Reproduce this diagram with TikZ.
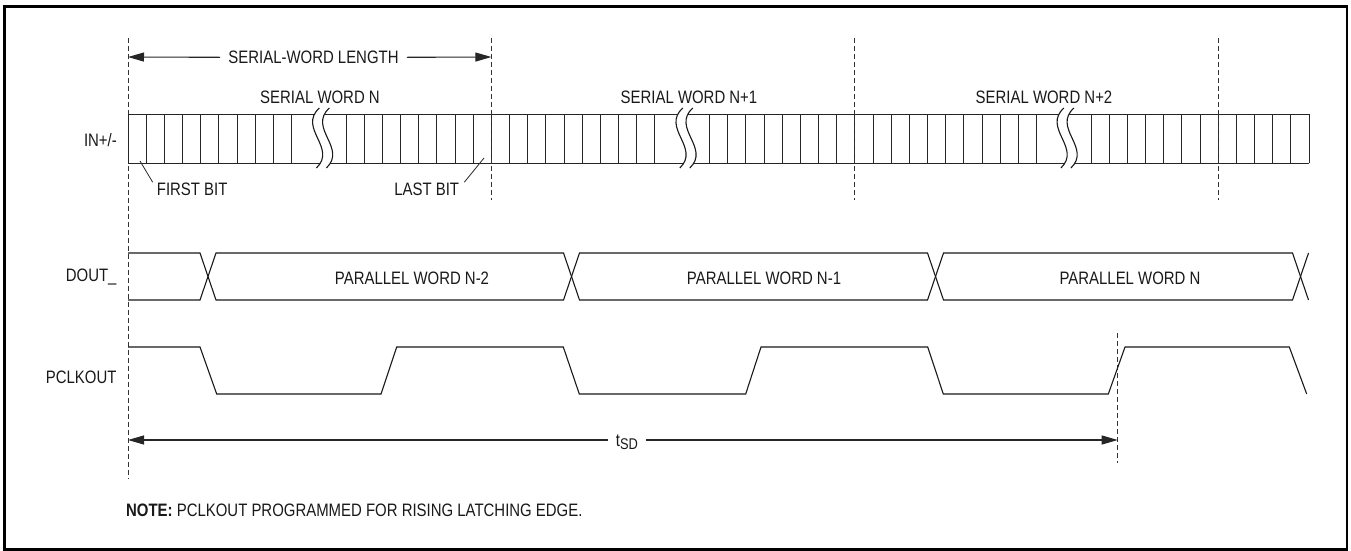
\documentclass[tikz,border=0pt]{standalone}
\usepackage{fontspec}
\setmainfont{Liberation Sans}[FakeStretch=0.83]
\usetikzlibrary{arrows.meta}
\begin{document}
\begin{tikzpicture}[x=1pt,y=-1pt,
  lbl/.style={font=\fontsize{18}{20}\selectfont, inner sep=0pt, text=black!90},
  sig/.style={line width=1.1pt, line join=miter, black!90},
  buswire/.style={line width=0.9pt, black!85},
  guide/.style={line width=0.8pt, dash pattern=on 5pt off 3pt, black!80},
  dimarrow/.style={line width=1.1pt, black!85, -{Triangle[length=16pt,width=9pt]}},
  leader/.style={line width=0.8pt, black!85},
  frame/.style={line width=2.2pt}]
\useasboundingbox (0,0) rectangle (1351,551);
\draw[frame] (4.5,6.5) rectangle (1347,549.5);

% ---- vertical guide lines
\coordinate (g0t) at (128,38);    \coordinate (g0b) at (128,479);
\coordinate (g1t) at (491.4,38);  \coordinate (g1b) at (491.4,200);
\coordinate (g2t) at (854.8,38);  \coordinate (g2b) at (854.8,200);
\coordinate (g3t) at (1218.2,38); \coordinate (g3b) at (1218.2,200);
\coordinate (g4t) at (1117.7,333); \coordinate (g4b) at (1117.7,463);
\foreach \n in {g0,g1,g2,g3,g4} \draw[guide] (\n t) -- (\n b);

% ---- serial-word length
\node[lbl, inner xsep=8pt, anchor=base] (swl) at (313.5,63.5) {SERIAL-WORD LENGTH};
\coordinate (swlL) at (128,57);
\coordinate (swlR) at (491.4,57);
\draw[dimarrow] (swl.west) -- (swlL);
\draw[dimarrow] (swl.east) -- (swlR);

% ---- serial word labels
\node[lbl, anchor=base] (sw0) at (320,103.5) {SERIAL WORD N};
\node[lbl, anchor=base] (sw1) at (689,103.5) {SERIAL WORD N+1};
\node[lbl, anchor=base] (sw2) at (1044,103.5) {SERIAL WORD N+2};

% ---- IN+/- bus
\draw[buswire] (128,114) -- (1309.1,114);
\draw[buswire] (128,163) -- (1309.1,163);
\foreach \i in {0,...,9} \draw[buswire] ({128+18.17*\i},114) -- ({128+18.17*\i},163);
\foreach \i in {12,...,29} \draw[buswire] ({128+18.17*\i},114) -- ({128+18.17*\i},163);
\foreach \i in {32,...,50} \draw[buswire] ({128+18.17*\i},114) -- ({128+18.17*\i},163);
\foreach \i in {53,...,65} \draw[buswire] ({128+18.17*\i},114) -- ({128+18.17*\i},163);
% break marks
\foreach \c in {321.8,685.2,1066.3} {
  \fill[white] ({\c-2.4},108) .. controls ({\c-24.4},128) and ({\c+15.6},148) .. ({\c-5.4},168)
     -- ({\c+4.6},168) .. controls ({\c+25.6},148) and ({\c-14.4},128) .. ({\c+7.6},108) -- cycle;
  \draw[sig] ({\c-2.4},108) .. controls ({\c-24.4},128) and ({\c+15.6},148) .. ({\c-5.4},168);
  \draw[sig] ({\c+7.6},108) .. controls ({\c-14.4},128) and ({\c+25.6},148) .. ({\c+4.6},168);
}
% redraw the guide lines over the bus where they coincide
\foreach \n in {g1,g2,g3} \draw[guide] (\n t) -- (\n b);

% ---- first / last bit
\node[lbl, inner xsep=4pt, anchor=base west] (fb) at (152.7,195) {FIRST BIT};
\node[lbl, inner xsep=5pt, anchor=base east] (lb) at (464.3,195) {LAST BIT};
\coordinate (fbA) at (140,161);
\coordinate (lbA) at (484,158);
\draw[leader] (fbA) -- (fb.north west);
\draw[leader] (lbA) -- (lb.north east);

% ---- signal names
\node[lbl, anchor=base east] (nin)  at (117,146.7) {IN+/-};
\node[lbl, anchor=base east] (ndout) at (116.7,281.7) {DOUT\_};
\node[lbl, anchor=base east] (npclk) at (116.7,383.3) {PCLKOUT};

% ---- DOUT_
\draw[sig] (128,253) -- (200,253) -- (216,300) -- (563.5,300) -- (579.5,253) -- (927.5,253)
  -- (943.5,300) -- (1292.5,300) -- (1308.5,253);
\draw[sig] (128,300) -- (200,300) -- (216,253) -- (563.5,253) -- (579.5,300) -- (927.5,300)
  -- (943.5,253) -- (1292.5,253) -- (1308.5,300);
\node[lbl, anchor=base] (pw2) at (412,284.3) {PARALLEL WORD N-2};
\node[lbl, anchor=base] (pw1) at (764,284.3) {PARALLEL WORD N-1};
\node[lbl, anchor=base] (pw0) at (1130,284.3) {PARALLEL WORD N};

% ---- PCLKOUT
\draw[sig] (128,347) -- (200,347) -- (216.7,394) -- (381,394) -- (396.7,347) -- (563.3,347)
  -- (579.3,394) -- (745.7,394) -- (761,347) -- (927.7,347) -- (943.3,394) -- (1108.3,394)
  -- (1125,347) -- (1289.3,347) -- (1306.7,394);

% ---- tSD
\node[lbl, inner xsep=8pt, anchor=base] (tsd) at (627,446)
  {t\raisebox{-3pt}{\fontsize{15.5}{16}\selectfont SD}};
\coordinate (tL) at (128,440);
\coordinate (tR) at (1117.7,440);
\draw[dimarrow] (tsd.west |- tL) -- (tL);
\draw[dimarrow] (tsd.east |- tR) -- (tR);

% ---- note
\node[lbl, anchor=base west] (note) at (126,516)
  {\textbf{NOTE:} PCLKOUT PROGRAMMED FOR RISING LATCHING EDGE.};
\end{tikzpicture}
\end{document}
